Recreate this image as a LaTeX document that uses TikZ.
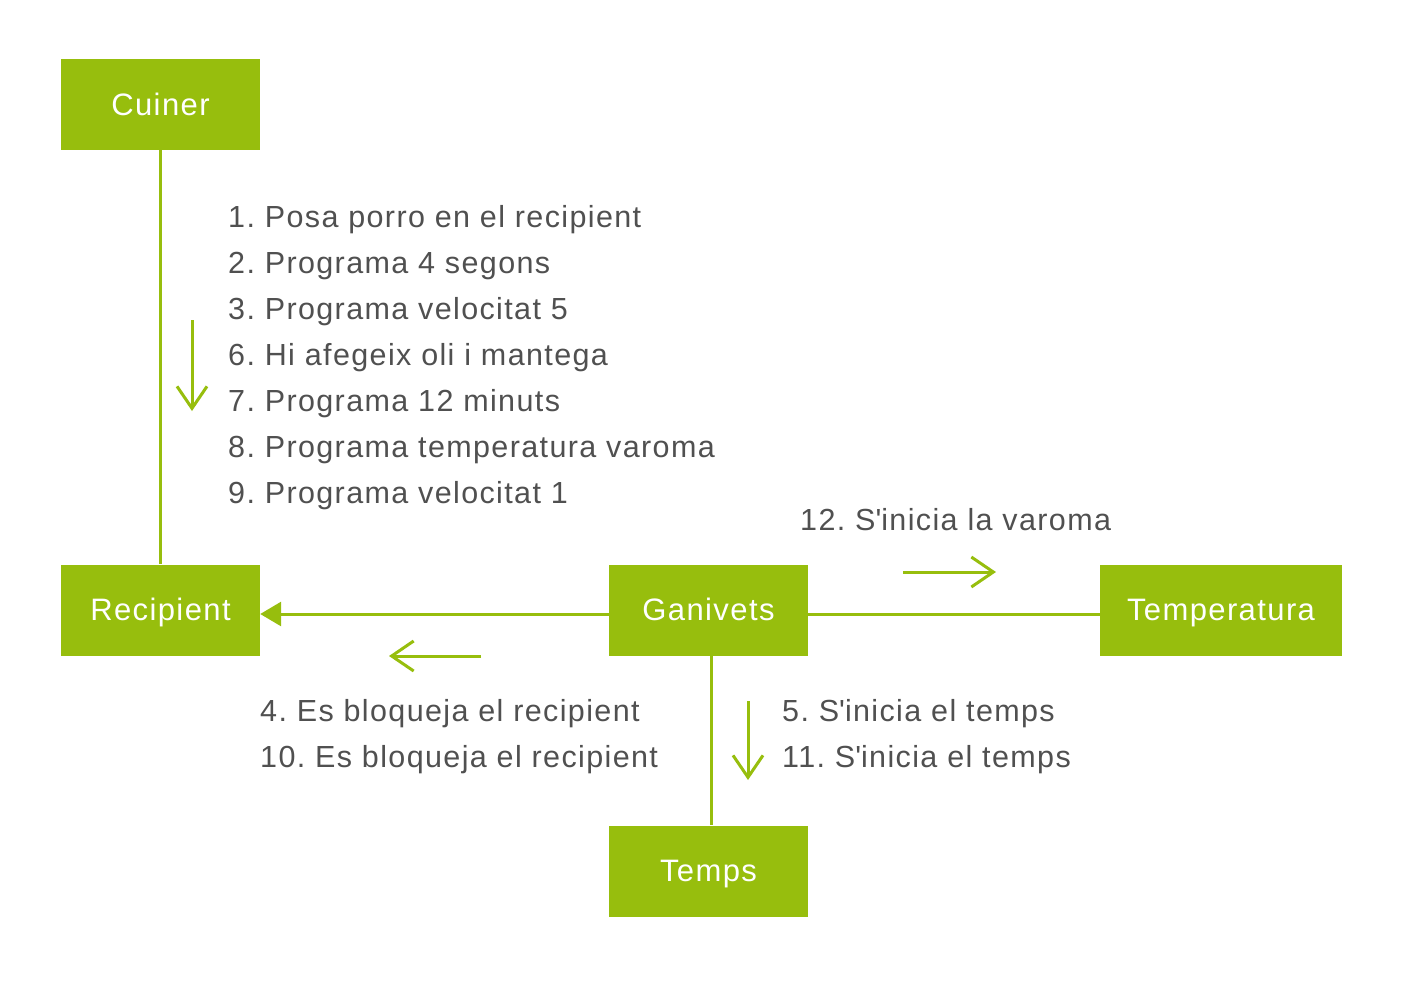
\documentclass[tikz,border=0pt]{standalone}
\usepackage{fontspec}
\setmainfont{Liberation Sans}[LetterSpace=4.5]
\usetikzlibrary{arrows.meta}
\definecolor{verd}{HTML}{97BE0D}
\definecolor{gris}{HTML}{505050}
\frenchspacing

\tikzstyle{caixa} = [fill=verd, text=white, minimum width=199pt, minimum height=91pt, inner sep=0pt, text height=22pt, text depth=2pt, font=\fontsize{31}{36}\selectfont]
\tikzstyle{pas} = [text=gris, anchor=west, align=left, inner sep=0pt, font=\fontsize{30.5}{46}\selectfont]
\tikzstyle{enllac} = [draw=verd, line width=3pt]
\tikzstyle{fletxa} = [draw=verd, line width=3pt, -{Straight Barb[length=22pt,width=30pt,line width=3pt]}]

\begin{document}
\begin{tikzpicture}[x=1pt, y=-1pt]
\useasboundingbox (0,0) rectangle (1417,983);
\node[caixa, text depth=-2pt] (cuiner) at (160.5,104.5) {Cuiner};
\node[caixa] (recipient) at (160.5,610) {Recipient};
\node[caixa] (ganivets) at (708.5,610) {Ganivets};
\node[caixa, minimum width=242pt] (temperatura) at (1221,610) {Temperatura};
\node[caixa] (temps) at (708.5,871) {Temps};

\draw[enllac] (cuiner) -- (recipient);
\draw[enllac, -{Triangle[length=21pt,width=24pt]}] ([yshift=-4pt]ganivets.west) -- ([yshift=-4pt]recipient.east);
\draw[enllac] ([yshift=-4pt]ganivets.east) -- ([yshift=-4pt]temperatura.west);
\draw[enllac] ([xshift=2.5pt]ganivets.south) -- ([xshift=2.5pt]temps.north);

% missatges
\node[pas] (m1) at (228,358) {1. Posa porro en el recipient\\
2. Programa 4 segons\\
3. Programa velocitat 5\\
6. Hi afegeix oli i mantega\\
7. Programa 12 minuts\\
8. Programa temperatura varoma\\
9. Programa velocitat 1};
\node[pas] (m2) at (260,737) {4. Es bloqueja el recipient\\
10. Es bloqueja el recipient};
\node[pas] (m3) at (782,737) {5. S\textquotesingle inicia el temps\\
11. S\textquotesingle inicia el temps};
\node[pas] (m4) at (800,520) {12. S\textquotesingle inicia la varoma};

\coordinate (a1) at (192,320);
\coordinate (b1) at (192,411);
\coordinate (a2) at (481,656);
\coordinate (b2) at (389,656);
\coordinate (a3) at (903,572);
\coordinate (b3) at (996,572);
\coordinate (a4) at (748,701);
\coordinate (b4) at (748,780);
\draw[fletxa] (a1) -- (b1);
\draw[fletxa] (a2) -- (b2);
\draw[fletxa] (a3) -- (b3);
\draw[fletxa] (a4) -- (b4);
\end{tikzpicture}
\end{document}
